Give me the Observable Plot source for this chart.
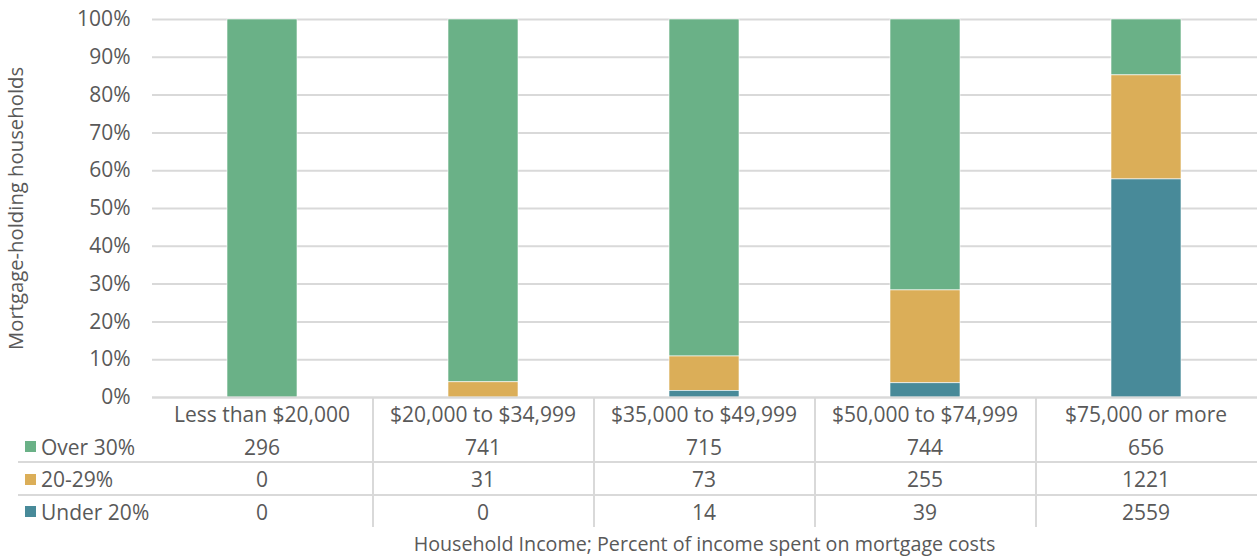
<!DOCTYPE html>
<html>
<head>
<meta charset="utf-8">
<script src="https://cdn.jsdelivr.net/npm/d3@7"></script>
<script src="https://cdn.jsdelivr.net/npm/@observablehq/plot@0.6"></script>
<style>
  html, body { margin: 0; padding: 0; background: #fff; }
  body { font-family: "Open Sans", "Liberation Sans", sans-serif; color: #595959; }
  #wrap { position: relative; width: 1259px; height: 557px; overflow: hidden; }
  #chart { position: absolute; left: 0; top: 0; }
  #table { position: absolute; left: 0; top: 397px; width: 1259px; }
  .row { position: relative; height: 33px; }
  .cell { position: absolute; top: 0; height: 100%; display: flex; align-items: center; justify-content: center; font-size: 21px; color: #595959; white-space: nowrap; }
  .lab { justify-content: flex-start; }
  .sw { display: inline-block; width: 11px; height: 11px; margin-right: 5px; }
  .hline { position: absolute; left: 18px; width: 1239px; height: 0; border-top: 2px solid #d9d9d9; }
  .vline { position: absolute; top: 0; width: 0; height: 130px; border-left: 2px solid #d9d9d9; }
  #xtitle { position: absolute; left: 0; width: 1259px; top: 530px; text-align: left; font-size: 19.7px; color: #595959; }
</style>
</head>
<body>
<div id="wrap">
  <div id="chart"></div>
  <div id="table"></div>
  <div id="xtitle"></div>
</div>
<script>
const categories = ["Less than $20,000", "$20,000 to $34,999", "$35,000 to $49,999", "$50,000 to $74,999", "$75,000 or more"];
const series = ["Over 30%", "20-29%", "Under 20%"];
const over30 = [296, 741, 715, 744, 656];
const mid2029 = [0, 31, 73, 255, 1221];
const under20 = [0, 0, 14, 39, 2559];
const colors = ["#6AB187", "#DBAE58", "#488A99"];
const yTicks = [0, 0.1, 0.2, 0.3, 0.4, 0.5, 0.6, 0.7, 0.8, 0.9, 1.0];
const xTitle = "Household Income; Percent of income spent on mortgage costs";
const yTitle = "Mortgage-holding households";

const seriesValues = [over30, mid2029, under20];
const rows = [];
series.forEach((s, si) => categories.forEach((c, ci) => rows.push({category: c, series: s, value: seriesValues[si][ci]})));

const W = 1259, ML = 152, MR = 2;
const plot = Plot.plot({
  width: W,
  height: 420,
  marginLeft: ML,
  marginRight: MR,
  marginTop: 19,
  marginBottom: 23,
  style: {fontFamily: '"Open Sans", "Liberation Sans", sans-serif', fontSize: "21px", color: "#595959", background: "transparent"},
  x: {domain: categories, paddingInner: 0.683, paddingOuter: 0.3415, axis: null},
  y: {domain: [0, 1], ticks: yTicks, tickFormat: d3.format(".0%"), tickSize: 0, tickPadding: 22, axis: null},
  color: {domain: series, range: colors},
  marks: [
    Plot.gridY(yTicks, {stroke: "#d9d9d9", strokeOpacity: 1, strokeWidth: 2}),
    Plot.axisY(yTicks, {tickFormat: d3.format(".0%"), tickSize: 0, tickPadding: 22, fontSize: 21,
      label: yTitle, labelAnchor: "center", labelArrow: "none", labelOffset: 144}),
    Plot.barY(rows, Plot.stackY({offset: "normalize", order: ["Under 20%", "20-29%", "Over 30%"]},
      {x: "category", y: "value", fill: "series", stroke: "white", strokeWidth: 0.6})),
    Plot.ruleY([0], {stroke: "#d9d9d9", strokeWidth: 2})
  ]
});
// y title font size slightly smaller than the ticks
plot.querySelectorAll("[aria-label='y-axis label'] text, [aria-label='y-axis label']").forEach(n => n.setAttribute("font-size", "20.3"));
document.getElementById("chart").appendChild(plot);

// Data table below the chart, aligned with the x band scale
const xs = plot.scale("x");
const step = xs.step;
const bandStart = (c) => xs.apply(c) - (step - xs.bandwidth) / 2;
const table = document.getElementById("table");

function addRow(label, colorIdx, values, top) {
  const row = document.createElement("div");
  row.className = "row";
  row.style.position = "absolute";
  row.style.top = top + "px";
  row.style.width = W + "px";
  if (label) {
    const l = document.createElement("div");
    l.className = "cell lab";
    l.style.left = "25px";
    const sw = document.createElement("span");
    sw.className = "sw";
    sw.style.background = colors[colorIdx];
    l.appendChild(sw);
    l.appendChild(document.createTextNode(label));
    row.appendChild(l);
  }
  categories.forEach((c, i) => {
    const d = document.createElement("div");
    d.className = "cell";
    d.style.left = bandStart(c) + "px";
    d.style.width = step + "px";
    d.textContent = values[i];
    row.appendChild(d);
  });
  table.appendChild(row);
}
addRow(null, 0, categories, 0);
series.forEach((s, si) => addRow(s, si, seriesValues[si], 33 + si * 32.5));
[64, 97].forEach(t => { const h = document.createElement("div"); h.className = "hline"; h.style.top = t + "px"; table.appendChild(h); });
categories.slice(1).forEach(c => { const v = document.createElement("div"); v.className = "vline"; v.style.left = (bandStart(c) - 1) + "px"; table.appendChild(v); });

const xt = document.getElementById("xtitle");
xt.textContent = xTitle;
xt.style.textAlign = "center";
xt.style.left = ML + "px";
xt.style.width = (W - ML - MR) + "px";
</script>
</body>
</html>
